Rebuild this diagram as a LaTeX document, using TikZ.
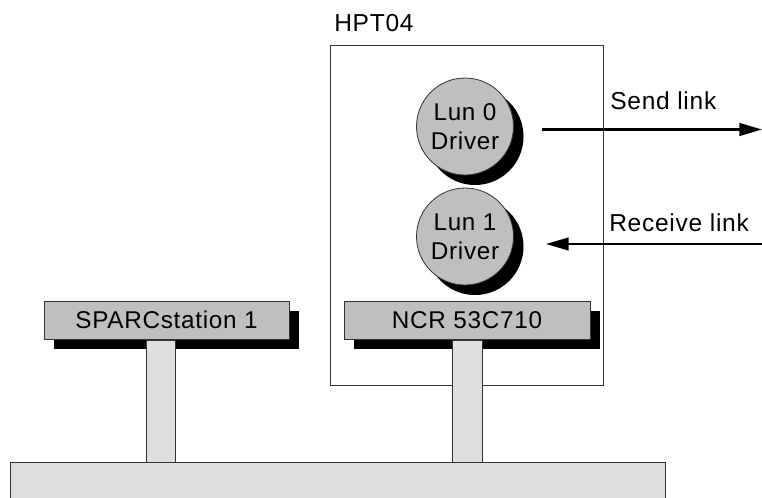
\documentclass[tikz,border=0pt]{standalone}
\usepackage{fontspec}
\setmainfont[LetterSpace=3]{Liberation Sans}
\usetikzlibrary{shadows,arrows.meta}
\definecolor{darkfill}{gray}{0.75}
\definecolor{lightfill}{gray}{0.875}
\definecolor{edgegray}{gray}{0.2}
\tikzset{
  x=0.75pt,y=-0.75pt,
  boxshadow/.style={drop shadow={shadow xshift=7.5pt,shadow yshift=-7.5pt,fill=black,opacity=1}},
  labeltext/.style={font=\fontsize{18.4}{21}\selectfont,text=black,inner sep=0pt},
  driver/.style={circle,draw=edgegray,line width=0.6pt,fill=darkfill,minimum size=72.75pt,inner sep=0pt,align=center,boxshadow,
    font=\fontsize{18.2}{21.75}\selectfont},
  chip/.style={rectangle,draw=edgegray,line width=0.75pt,fill=darkfill,minimum height=28.5pt,inner sep=0pt,boxshadow,
    font=\fontsize{18.2}{21}\selectfont},
  stem/.style={rectangle,draw=edgegray,line width=0.75pt,fill=lightfill,inner sep=0pt,minimum width=21.75pt,minimum height=91.5pt},
  stemb/.style={stem,minimum width=22.5pt},
  bus/.style={rectangle,draw=edgegray,line width=0.75pt,fill=lightfill,inner sep=0pt,minimum width=491.25pt,minimum height=45pt},
  frame/.style={rectangle,draw=edgegray,line width=0.6pt,fill=white,inner sep=0pt,minimum width=204.75pt,minimum height=255pt},
  link/.style={line width=1.7pt,-{Triangle[length=17pt,width=9.5pt]}}
}
\begin{document}
\begin{tikzpicture}
\useasboundingbox (0,0) rectangle (762,497);
\clip (0,0) rectangle (762,497);
\node[frame] (hpt) at (467.25,215) {};
\node[labeltext,anchor=base west] (hptlabel) at (334,31) {HPT04};
\node[bus] (busbar) at (337.5,492) {};
\node[chip,minimum width=183.75pt] (sparc) at (166.5,320) {SPARCstation 1};
\node[chip,minimum width=184.5pt] (ncr) at (467,320) {NCR 53C710};
\node[stem] (stema) at (160.5,401) {};
\node[stemb] (stemc) at (467.25,401) {};
\node[driver] (lun0) at (465,126.5) {Lun 0\\Driver};
\node[driver] (lun1) at (465,236.5) {Lun 1\\Driver};
\node[labeltext,anchor=base west] (send) at (610,109) {Send link};
\node[labeltext,anchor=base west] (recv) at (609,231) {Receive link};
\coordinate (sendstart) at (542,129.5);
\coordinate (sendend) at (762,129.5);
\coordinate (recvstart) at (762,244);
\coordinate (recvend) at (546,244);
\draw[link] (sendstart) -- (sendend);
\draw[link] (recvstart) -- (recvend);
\end{tikzpicture}
\end{document}
